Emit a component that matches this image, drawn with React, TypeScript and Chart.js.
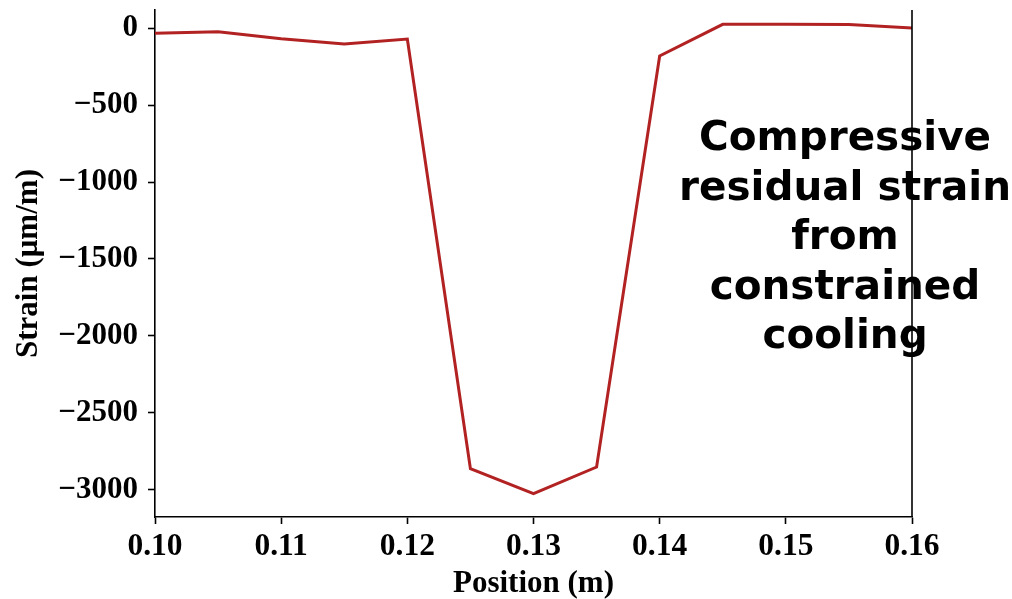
import React, { useEffect, useRef } from "react";
import { Chart, registerables } from "chart.js";

Chart.register(...registerables);

const positions = [0.1, 0.105, 0.11, 0.115, 0.12, 0.125, 0.13, 0.135, 0.14, 0.145, 0.15, 0.155, 0.16];
const strain = [-33, -22, -68, -102, -70, -2864, -3026, -2853, -180, 26, 26, 25, 2];
const xTicks = [0.1, 0.11, 0.12, 0.13, 0.14, 0.15, 0.16];
const yTicks = [0, -500, -1000, -1500, -2000, -2500, -3000];
const annotationLines = ["Compressive", "residual strain", "from", "constrained", "cooling"];
const xTitle = "Position (m)";
const yTitle = "Strain (μm/m)";

const serifBold = (size: number) => ({ family: "'Liberation Serif', 'Times New Roman', serif", weight: "bold" as const, size });

export default function App() {
  const ref = useRef<HTMLCanvasElement | null>(null);

  useEffect(() => {
    if (!ref.current) return;

    const extras = {
      id: "extras",
      afterDraw(chart: any) {
        const { ctx, chartArea } = chart;
        ctx.save();
        ctx.fillStyle = "#000";
        ctx.font = "bold 40.5px 'DejaVu Sans', sans-serif";
        ctx.textAlign = "center";
        ctx.textBaseline = "alphabetic";
        const cx = 845;
        annotationLines.forEach((t, i) => {
          ctx.fillText(t, cx, 150 + i * 49.5);
        });
        ctx.strokeStyle = "#000";
        ctx.lineWidth = 1.6;
        ctx.beginPath();
        ctx.moveTo(chartArea.right, chartArea.top);
        ctx.lineTo(chartArea.right, chartArea.bottom);
        ctx.stroke();
        ctx.restore();
      },
    };

    const chart = new Chart(ref.current, {
      type: "line",
      data: {
        datasets: [
          {
            data: positions.map((x, i) => ({ x, y: strain[i] })),
            borderColor: "#b22222",
            borderWidth: 3,
            pointRadius: 0,
            tension: 0,
            fill: false,
          },
        ],
      },
      options: {
        animation: false,
        responsive: false,
        maintainAspectRatio: false,
        layout: { padding: { left: 0, top: 10, right: 100, bottom: 0 } },
        plugins: { legend: { display: false }, tooltip: { enabled: false } },
        scales: {
          x: {
            type: "linear",
            min: 0.1,
            max: 0.16,
            afterFit(scale: any) {
              scale.height = 82;
              scale.paddingLeft = 0;
              scale.paddingRight = 0;
            },
            afterBuildTicks(scale: any) {
              scale.ticks = xTicks.map((v) => ({ value: v }));
            },
            ticks: {
              color: "#000",
              font: serifBold(31.5),
              padding: 4,
              maxRotation: 0,
              autoSkip: false,
              callback: (v: any) => Number(v).toFixed(2),
            },
            grid: {
              display: true,
              drawOnChartArea: false,
              drawTicks: true,
              tickLength: 7,
              tickColor: "#000",
              tickWidth: 1.6,
            },
            border: { display: true, color: "#000", width: 1.6 },
            title: {
              display: true,
              text: xTitle,
              color: "#000",
              font: serifBold(31),
              padding: { top: 0, bottom: -4 },
            },
          },
          y: {
            type: "linear",
            min: -3178,
            max: 119,
            afterFit(scale: any) {
              scale.width = 155;
              scale.paddingTop = 0;
              scale.paddingBottom = 0;
            },
            afterBuildTicks(scale: any) {
              scale.ticks = yTicks.map((v) => ({ value: v }));
            },
            ticks: {
              color: "#000",
              font: serifBold(31),
              padding: 10,
              autoSkip: false,
              callback: (v: any) => (Number(v) < 0 ? "\u2212" + Math.abs(Number(v)) : String(v)),
            },
            grid: {
              display: true,
              drawOnChartArea: false,
              drawTicks: true,
              tickLength: 7,
              tickColor: "#000",
              tickWidth: 1.6,
            },
            border: { display: true, color: "#000", width: 1.6 },
            title: {
              display: true,
              text: yTitle,
              color: "#000",
              font: serifBold(31),
              padding: { top: 10, bottom: 0 },
            },
          },
        },
      },
      plugins: [extras],
    });

    return () => chart.destroy();
  }, []);

  return (
    <div style={{ position: "fixed", left: 0, top: 0, width: 1012, height: 599, background: "#fff" }}>
      <canvas ref={ref} width={1012} height={599} style={{ display: "block", width: 1012, height: 599 }} />
    </div>
  );
}
